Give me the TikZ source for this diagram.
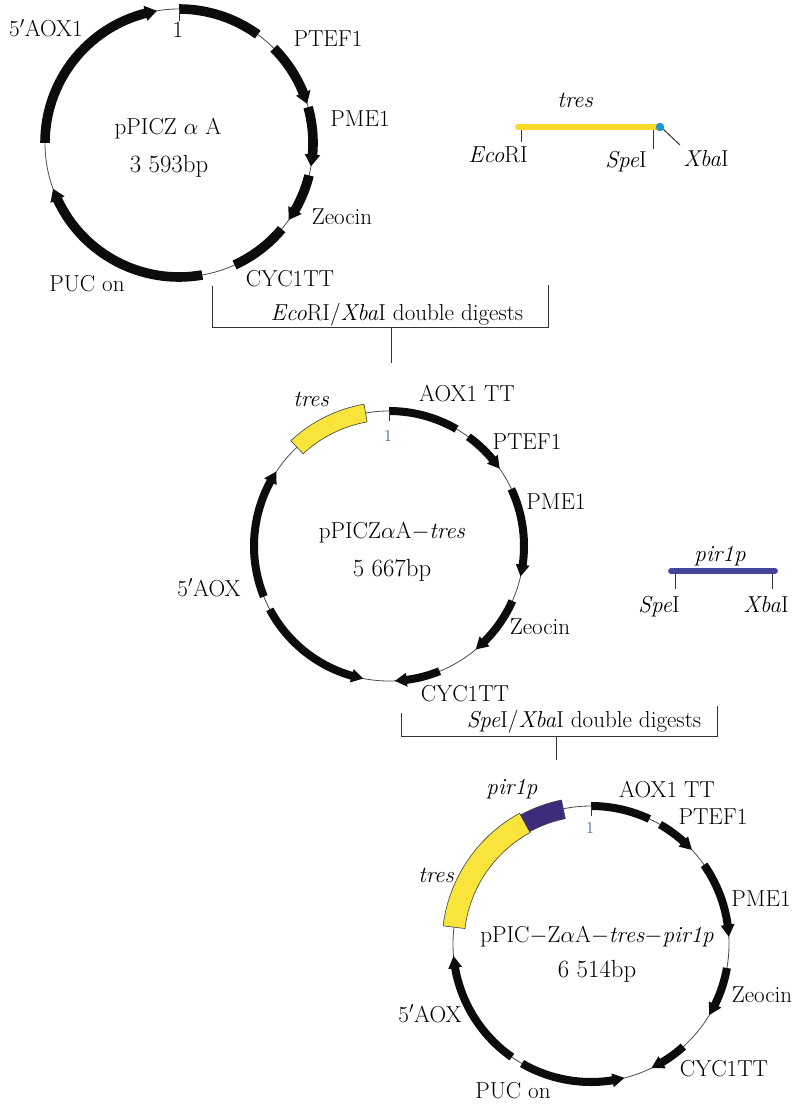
\documentclass[tikz,border=0pt]{standalone}
\usetikzlibrary{calc}
\definecolor{gene}{HTML}{0C0C0C}
\definecolor{ins}{HTML}{F8E43A}
\definecolor{pur}{HTML}{3D2B7C}
\definecolor{barY}{HTML}{FAD927}
\definecolor{barP}{HTML}{45469A}
\definecolor{dotB}{HTML}{1C97D6}
\definecolor{one}{HTML}{3A6E96}
\tikzset{
  lab/.style={anchor=base,inner sep=0pt,font=\fontsize{17.3}{20}\selectfont,text=black},
  numlab/.style={lab,font=\fontsize{18.6}{20}\selectfont},
  smallone/.style={lab,text=one,font=\fontsize{12.5}{14}\selectfont},
  thin line/.style={draw=black!70,line width=0.6pt},
  rule/.style={draw=black!80,line width=0.75pt},
  block/.style={fill=gene,draw=none},
  insert/.style={draw=black!75,line width=0.45pt},
}
\newcommand{\gw}{4}
% #1 R, #2 start angle, #3 tip angle : arc with an arrow head
\newcommand{\arrowgene}[3]{%
  \pgfmathsetmacro{\dirsgn}{#3>#2?1:-1}%
  \pgfmathsetmacro{\headang}{#3-\dirsgn*5}%
  \fill[block] (#2:#1+\gw) arc[start angle=#2,end angle=\headang,radius=#1+\gw]
    -- (\headang:#1+\gw+3) -- (#3:#1) -- (\headang:#1-\gw-3) -- (\headang:#1-\gw)
    arc[start angle=\headang,end angle=#2,radius=#1-\gw] -- cycle;}
% #1 R, #2 start, #3 end : plain block
\newcommand{\blockgene}[3]{%
  \fill[block] (#2:#1+\gw) arc[start angle=#2,end angle=#3,radius=#1+\gw]
    -- (#3:#1-\gw) arc[start angle=#3,end angle=#2,radius=#1-\gw] -- cycle;}
% #1 style, #2 inner R, #3 outer R, #4 start, #5 end
\newcommand{\band}[5]{%
  \filldraw[#1] (#4:#3) arc[start angle=#4,end angle=#5,radius=#3]
    -- (#5:#2) arc[start angle=#5,end angle=#4,radius=#2] -- cycle;}
\begin{document}
\begin{tikzpicture}[x=0.75pt,y=0.75pt]
\useasboundingbox (0,0) rectangle (800,-1109);
\fill[white] (0,0) rectangle (800,-1109);

% ---------- plasmid 1
\begin{scope}[shift={(179,-143)}]
  \renewcommand{\gw}{4.8}
  \draw[thin line] (0,0) circle[radius=134];
  \blockgene{134}{90}{54}
  \arrowgene{134}{45}{17}
  \arrowgene{134}{15.5}{-10}
  \arrowgene{134}{-14}{-35}
  \blockgene{134}{-40}{-65.5}
  \arrowgene{134}{-80}{-160}
  \arrowgene{134}{180}{99.5}
  \coordinate (t1a) at (90:134);
  \coordinate (t1b) at (90:122);
  \draw[rule] (t1a) -- (t1b);
\end{scope}
\node[lab] (a1) at (46,-37) {5$'$AOX1};
\node[lab] (a2) at (178,-38) {1};
\node[lab] (a3) at (328,-47) {PTEF1};
\node[lab] (a4) at (360,-127) {PME1};
\node[lab] (a5) at (168,-135) {pPICZ $\alpha$ A};
\node[numlab] (a6) at (169,-173) {3 593bp};
\node[lab] (a7) at (342,-224) {Zeocin};
\node[lab] (a8) at (290,-286) {CYC1TT};
\node[lab] (a9) at (87,-291) {PUC on};

% ---------- tres fragment
\coordinate (ta) at (518,-127);
\coordinate (tb) at (660,-127);
\coordinate (e1) at (521,-127);
\coordinate (e2) at (521,-142);
\coordinate (s1) at (653,-128);
\coordinate (s2) at (653,-149);
\coordinate (x1) at (663,-129);
\coordinate (x2) at (680,-145);
\draw[rule] (e1) -- (e2);
\draw[rule] (s1) -- (s2);
\draw[rule] (x1) -- (x2);
\draw[barY,line width=4.6pt,line cap=round] (ta) -- (tb);
\fill[dotB] (tb) circle[radius=4.2];
\node[lab] (b1) at (575,-108) {\itshape tres};
\node[lab] (b2) at (498,-163) {\textit{Eco}RI};
\node[lab] (b3) at (626,-168) {\textit{Spe}I};
\node[lab] (b4) at (706,-167) {\textit{Xba}I};

% ---------- bracket 1
\coordinate (k1) at (212,-286);
\coordinate (k2) at (212,-327);
\coordinate (k3) at (548,-327);
\coordinate (k4) at (548,-285);
\coordinate (k5) at (391,-327);
\coordinate (k6) at (391,-363);
\draw[rule] (k1) -- (k2) -- (k3) -- (k4);
\draw[rule] (k5) -- (k6);
\node[lab] (k7) at (397,-320) {\textit{Eco}RI/\textit{Xba}I double digests};

% ---------- plasmid 2
\begin{scope}[shift={(389,-546)}]
  \draw[thin line] (0,0) circle[radius=135];
  \blockgene{135}{90}{60}
  \arrowgene{135}{54}{35}
  \arrowgene{135}{25}{-13}
  \arrowgene{135}{-24}{-50}
  \arrowgene{135}{-68}{-87.5}
  \arrowgene{135}{-152}{-101}
  \arrowgene{135}{202}{146.5}
  \band{insert,fill=ins}{126}{144}{100}{133}
  \coordinate (t2a) at (90:135);
  \coordinate (t2b) at (90:125);
  \draw[rule] (t2a) -- (t2b);
\end{scope}
\node[lab] (c1) at (311,-406) {\itshape tres};
\node[lab] (c2) at (467,-401) {AOX1 TT};
\node[smallone] (c3) at (388,-441) {1};
\node[lab] (c4) at (527,-449) {PTEF1};
\node[lab] (c5) at (556,-509) {PME1};
\node[lab] (c6) at (392,-538) {pPICZ$\alpha$A$-$\textit{tres}};
\node[numlab] (c7) at (392,-576) {5 667bp};
\node[lab] (c8) at (209,-596) {5$'$AOX};
\node[lab] (c9) at (540,-634) {Zeocin};
\node[lab] (c10) at (465,-701) {CYC1TT};

% ---------- pir1p fragment
\coordinate (pa) at (671,-571);
\coordinate (pb) at (775,-571);
\coordinate (q1) at (675,-571);
\coordinate (q2) at (675,-589);
\coordinate (q3) at (772,-571);
\coordinate (q4) at (772,-589);
\draw[rule] (q1) -- (q2);
\draw[rule] (q3) -- (q4);
\draw[barP,line width=4.4pt,line cap=round] (pa) -- (pb);
\node[lab] (d1) at (720,-561) {\itshape pir1p};
\node[lab] (d2) at (659,-612) {\textit{Spe}I};
\node[lab] (d3) at (766,-612) {\textit{Xba}I};

% ---------- bracket 2
\coordinate (m1) at (401,-713);
\coordinate (m2) at (401,-736);
\coordinate (m3) at (717,-736);
\coordinate (m4) at (717,-706);
\coordinate (m5) at (556,-736);
\coordinate (m6) at (556,-760);
\draw[rule] (m1) -- (m2) -- (m3) -- (m4);
\draw[rule] (m5) -- (m6);
\node[lab] (m7) at (584,-727) {\textit{Spe}I/\textit{Xba}I double digests};

% ---------- plasmid 3
\begin{scope}[shift={(591,-944)}]
  \draw[thin line] (0,0) circle[radius=138];
  \blockgene{138}{90}{65}
  \arrowgene{138}{60}{43}
  \arrowgene{138}{35}{3}
  \arrowgene{138}{-10}{-31}
  \arrowgene{138}{-48}{-64}
  \arrowgene{138}{-120}{-76}
  \arrowgene{138}{235}{185}
  \band{insert,fill=ins}{127}{149}{118.6}{173}
  \band{insert,fill=pur}{128}{147}{101.6}{118.6}
  \coordinate (t3a) at (90:138);
  \coordinate (t3b) at (90:128);
  \draw[rule] (t3a) -- (t3b);
\end{scope}
\node[lab] (f1) at (512,-794) {\itshape pir1p};
\node[lab] (f2) at (667,-797) {AOX1 TT};
\node[lab] (f3) at (713,-824) {PTEF1};
\node[smallone] (f4) at (590,-833) {1};
\node[lab] (f5) at (436,-882) {\itshape tres};
\node[lab] (f6) at (761,-906) {PME1};
\node[lab] (f7) at (597,-942) {pPIC$-$Z$\alpha$A$-$\textit{tres}$-$\textit{pir1p}};
\node[numlab] (f8) at (597,-977) {6 514bp};
\node[lab] (f9) at (762,-1002) {Zeocin};
\node[lab] (f10) at (430,-1022) {5$'$AOX};
\node[lab] (f11) at (724,-1076) {CYC1TT};
\node[lab] (f12) at (513,-1098) {PUC on};
\end{tikzpicture}
\end{document}
